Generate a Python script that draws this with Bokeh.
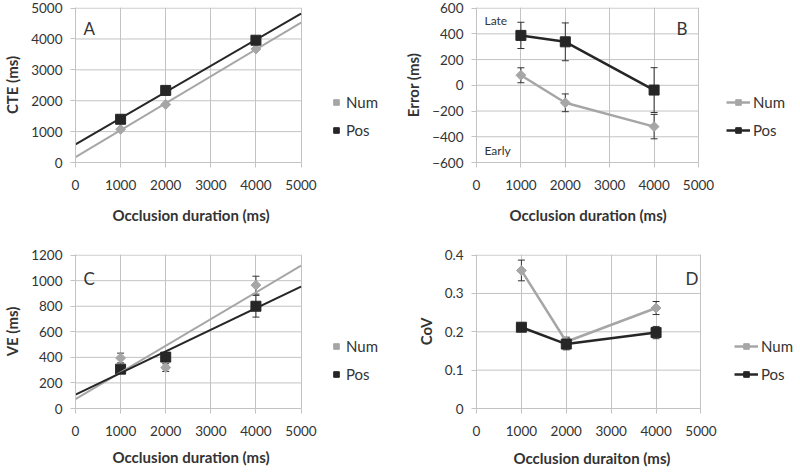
import numpy as np
from bokeh.plotting import figure
from bokeh.layouts import gridplot
from bokeh.models import FixedTicker, Legend, LegendItem, Label, NumeralTickFormatter, Title
from bokeh.embed import file_html
from bokeh.resources import INLINE

# ---------------- data ----------------
durations = [1000, 2000, 4000]
x_ticks = [0, 1000, 2000, 3000, 4000, 5000]
x_limits = [0, 5000]

cte_ticks = [0, 1000, 2000, 3000, 4000, 5000]
cte_num = [1075, 1880, 3675]
cte_pos = [1400, 2335, 3960]

err_ticks = [-600, -400, -200, 0, 200, 400, 600]
err_num = [78, -136, -321]
err_num_sd = [58, 69, 95]
err_pos = [388, 338, -37]
err_pos_sd = [102, 147, 174]

ve_ticks = [0, 200, 400, 600, 800, 1000, 1200]
ve_num = [395, 320, 965]
ve_num_sd = [38, 30, 70]
ve_pos = [308, 402, 800]
ve_pos_sd = [25, 20, 85]

cov_ticks = [0, 0.1, 0.2, 0.3, 0.4]
cov_num = [0.360, 0.174, 0.262]
cov_num_sd = [0.027, 0.012, 0.017]
cov_pos = [0.212, 0.168, 0.198]
cov_pos_sd = [0.010, 0.015, 0.016]

# ---------------- style ----------------
FONT = "Lato"
GRAY = "#A6A6A6"
DARK = "#262626"
GRID = "#C3C3C3"
TEXT = "#333333"
W, H = 400, 237


def make_fig(yticks, ylabel, xlabel, left, plot_w, top, bottom, title_x, title_gap, fmt=None):
    # the frame runs to the right edge so the legend can sit in it;
    # the visible plotting area covers x_limits over plot_w pixels
    frame_w = W - left
    x_end = x_limits[0] + (x_limits[1] - x_limits[0]) * frame_w / plot_w
    ypad = (yticks[-1] - yticks[0]) * 0.004
    p = figure(width=W, height=H, x_range=(x_limits[0], x_end),
               y_range=(yticks[0], yticks[-1] + ypad), output_backend="svg",
               toolbar_location=None, min_border_left=left, min_border_right=0,
               min_border_top=top, min_border_bottom=bottom)
    p.outline_line_color = None
    p.xaxis.ticker = FixedTicker(ticks=x_ticks)
    p.yaxis.ticker = FixedTicker(ticks=yticks)
    p.xgrid.ticker = FixedTicker(ticks=x_ticks)
    p.xgrid.grid_line_color = GRID
    p.ygrid.visible = False
    p.segment([x_limits[0]] * len(yticks), yticks, [x_limits[1]] * len(yticks), yticks,
              line_color=GRID, line_width=1)
    p.xaxis.bounds = (x_limits[0], x_limits[1])
    for ax in (p.xaxis, p.yaxis):
        ax.axis_line_color = GRID
        ax.major_tick_line_color = GRID
        ax.minor_tick_line_color = None
        ax.major_tick_out = 5
        ax.major_tick_in = 0
        ax.major_label_text_font = FONT
        ax.major_label_text_font_size = "13.5px"
        ax.major_label_text_color = TEXT
        ax.axis_label_text_font = FONT
        ax.axis_label_text_font_style = "bold"
        ax.axis_label_text_font_size = "15px"
        ax.axis_label_text_color = TEXT
    p.xaxis.major_label_standoff = 12
    p.yaxis.major_label_standoff = 8
    p.yaxis.axis_label_standoff = 7
    p.yaxis.axis_label = ylabel
    p.add_layout(Title(text=xlabel, align="left", offset=title_x,
                       text_font=FONT, text_font_size="15px", text_font_style="bold",
                       text_color=TEXT, standoff=title_gap), "below")
    if fmt is not None:
        p.yaxis.formatter = fmt
    return p


def error_bars(p, ys, sds, color):
    up = [y + s for y, s in zip(ys, sds)]
    lo = [y - s for y, s in zip(ys, sds)]
    p.segment(durations, lo, durations, up, line_color=color, line_width=1)
    p.scatter(durations, up, marker="dash", size=7, line_color=color, line_width=1)
    p.scatter(durations, lo, marker="dash", size=7, line_color=color, line_width=1)


def legend(p, items, x, y, gw):
    lg = Legend(items=items, location=(x, y), padding=0, margin=0, spacing=10,
                glyph_width=gw, glyph_height=14, label_height=14, label_standoff=3,
                label_text_font=FONT, label_text_font_size="15px", label_text_color=TEXT,
                border_line_alpha=0, background_fill_alpha=0)
    p.add_layout(lg)


def letter(p, txt, x, y, size="17px"):
    p.add_layout(Label(x=x, y=y, x_units="screen", y_units="screen", text=txt,
                       text_font=FONT, text_font_size=size, text_color=TEXT,
                       text_baseline="top"))


# ---------------- Panel A ----------------
pa = make_fig(cte_ticks, "CTE (ms)", "Occlusion duration (ms)", 70, 229, 7, 75, 37, 22)
na = pa.scatter(durations, cte_num, marker="square", angle=np.pi / 4, size=7,
                fill_color=GRAY, line_color=GRAY)
sa = pa.scatter(durations, cte_pos, marker="square", size=10, fill_color=DARK, line_color=DARK)
for ys, col in ((cte_num, GRAY), (cte_pos, DARK)):
    k, b = np.polyfit(durations, ys, 1)
    pa.line(x_limits, [b + k * x for x in x_limits], line_color=col, line_width=2)
legend(pa, [LegendItem(label="Num", renderers=[na]), LegendItem(label="Pos", renderers=[sa])],
       254, 23, 14)
letter(pa, "A", 8, 145)

# ---------------- Panel B ----------------
pb = make_fig(err_ticks, "Error (ms)", "Occlusion duration (ms)", 76, 222, 7, 75, 33, 22)
error_bars(pb, err_num, err_num_sd, "#333333")
error_bars(pb, err_pos, err_pos_sd, "#333333")
lb1 = pb.line(durations, err_num, line_color=GRAY, line_width=2.5)
mb1 = pb.scatter(durations, err_num, marker="square", angle=np.pi / 4, size=7,
                 fill_color=GRAY, line_color=GRAY)
lb2 = pb.line(durations, err_pos, line_color=DARK, line_width=2.5)
mb2 = pb.scatter(durations, err_pos, marker="square", size=10, fill_color=DARK, line_color=DARK)
legend(pb, [LegendItem(label="Num", renderers=[lb1, mb1]),
            LegendItem(label="Pos", renderers=[lb2, mb2])], 250, 23, 24)
letter(pb, "B", 200, 145)
letter(pb, "Late", 8, 150, "12px")
letter(pb, "Early", 8, 20, "12px")

# ---------------- Panel C ----------------
pc = make_fig(ve_ticks, "VE (ms)", "Occlusion duration (ms)", 70, 229, 17, 65, 37, 15)
error_bars(pc, ve_num, ve_num_sd, "#333333")
error_bars(pc, ve_pos, ve_pos_sd, "#333333")
nc = pc.scatter(durations, ve_num, marker="square", angle=np.pi / 4, size=7,
                fill_color=GRAY, line_color=GRAY)
sc = pc.scatter(durations, ve_pos, marker="square", size=10, fill_color=DARK, line_color=DARK)
for ys, col in ((ve_num, GRAY), (ve_pos, DARK)):
    k, b = np.polyfit(durations, ys, 1)
    pc.line(x_limits, [b + k * x for x in x_limits], line_color=col, line_width=2)
legend(pc, [LegendItem(label="Num", renderers=[nc]), LegendItem(label="Pos", renderers=[sc])],
       254, 25, 14)
letter(pc, "C", 8, 141)

# ---------------- Panel D ----------------
pd_ = make_fig(cov_ticks, "CoV", "Occlusion duraiton (ms)", 68, 230, 17, 66, 37, 16,
               fmt=NumeralTickFormatter(format="0.[0]"))
error_bars(pd_, cov_num, cov_num_sd, "#333333")
error_bars(pd_, cov_pos, cov_pos_sd, "#333333")
ld1 = pd_.line(durations, cov_num, line_color=GRAY, line_width=2.5)
md1 = pd_.scatter(durations, cov_num, marker="square", angle=np.pi / 4, size=7,
                  fill_color=GRAY, line_color=GRAY)
ld2 = pd_.line(durations, cov_pos, line_color=DARK, line_width=2.5)
md2 = pd_.scatter(durations, cov_pos, marker="square", size=10, fill_color=DARK, line_color=DARK)
legend(pd_, [LegendItem(label="Num", renderers=[ld1, md1]),
             LegendItem(label="Pos", renderers=[ld2, md2])], 258, 25, 24)
letter(pd_, "D", 209, 141)

grid = gridplot([[pa, pb], [pc, pd_]], toolbar_location=None)
open("out.html", "w").write(file_html(grid, INLINE))
